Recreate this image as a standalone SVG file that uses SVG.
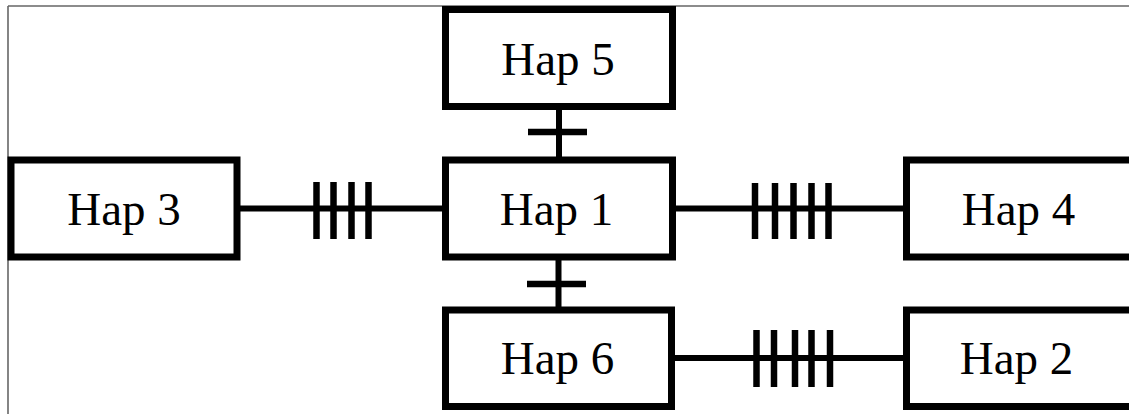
<svg xmlns="http://www.w3.org/2000/svg" width="1129" height="414" viewBox="0 0 1129 414">
<style>
.frame{stroke:#666;stroke-width:1.6;fill:none}
.box{fill:#fff;stroke:#000;stroke-width:7}
.lbl{font-family:"Liberation Serif","Times New Roman",serif;font-size:47px;fill:#000;text-anchor:middle}
.ln{stroke:#000;stroke-width:6;fill:none}
.tk{stroke:#000;stroke-width:6.5;fill:none}
</style>
<rect width="1129" height="414" fill="#fff"/>
<g id="frame">
<line class="frame" x1="8" y1="6" x2="1129" y2="6"/>
<line class="frame" x1="8" y1="6" x2="8" y2="414"/>
</g>
<g id="connectors">
<line class="ln" x1="240" y1="208.5" x2="442" y2="208.5"/>
<line class="tk" x1="316.5" y1="182" x2="316.5" y2="239"/>
<line class="tk" x1="333.5" y1="182" x2="333.5" y2="239"/>
<line class="tk" x1="351.5" y1="182" x2="351.5" y2="239"/>
<line class="tk" x1="368.5" y1="182" x2="368.5" y2="239"/>
<line class="ln" x1="676" y1="208.5" x2="903" y2="208.5"/>
<line class="tk" x1="755" y1="183" x2="755" y2="239"/>
<line class="tk" x1="775" y1="183" x2="775" y2="239"/>
<line class="tk" x1="793.5" y1="183" x2="793.5" y2="239"/>
<line class="tk" x1="811.5" y1="183" x2="811.5" y2="239"/>
<line class="tk" x1="828.5" y1="183" x2="828.5" y2="239"/>
<line class="ln" x1="675" y1="358" x2="903" y2="358"/>
<line class="tk" x1="756.5" y1="330" x2="756.5" y2="387"/>
<line class="tk" x1="774" y1="330" x2="774" y2="387"/>
<line class="tk" x1="795" y1="330" x2="795" y2="387"/>
<line class="tk" x1="811.5" y1="330" x2="811.5" y2="387"/>
<line class="tk" x1="830" y1="330" x2="830" y2="387"/>
<line class="ln" x1="559" y1="110" x2="559" y2="157"/>
<line class="tk" x1="528" y1="132" x2="587" y2="132"/>
<line class="ln" x1="558.5" y1="260" x2="558.5" y2="307"/>
<line class="tk" x1="527" y1="284" x2="586" y2="284"/>
</g>
<g id="hap5">
<rect class="box" x="445.5" y="9.5" width="227" height="97"/>
<text class="lbl" x="558" y="75">Hap 5</text>
</g>
<g id="hap3">
<rect class="box" x="11" y="160" width="226" height="97"/>
<text class="lbl" x="124" y="225">Hap 3</text>
</g>
<g id="hap1">
<rect class="box" x="445.5" y="160" width="227" height="97"/>
<text class="lbl" x="556.5" y="225">Hap 1</text>
</g>
<g id="hap4">
<rect class="box" x="906.5" y="160" width="260" height="97"/>
<text class="lbl" x="1018.5" y="225">Hap 4</text>
</g>
<g id="hap6">
<rect class="box" x="445.5" y="310" width="226" height="96.5"/>
<text class="lbl" x="557.5" y="374">Hap 6</text>
</g>
<g id="hap2">
<rect class="box" x="906.5" y="310" width="260" height="96.5"/>
<text class="lbl" x="1016.5" y="374">Hap 2</text>
</g>
</svg>
